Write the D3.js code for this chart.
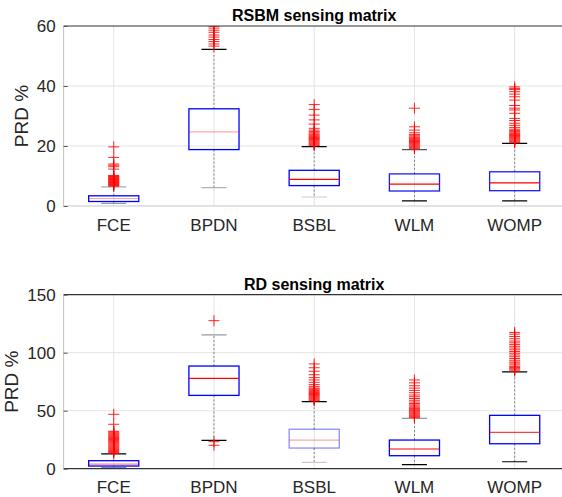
<!DOCTYPE html>
<html>
<head>
<meta charset="utf-8">
<script src="https://cdn.jsdelivr.net/npm/d3@7"></script>
<style>
  html, body { margin: 0; padding: 0; background: #fff; }
  svg { display: block; }
</style>
</head>
<body>
<svg id="chart" width="562" height="497"></svg>
<script>
// ---------------- DATA ----------------
const categories = ["FCE", "BPDN", "BSBL", "WLM", "WOMP"];

// RSBM sensing matrix: [lower whisker, Q1, median, Q3, upper whisker]
const rsbmLowerWhisker = [0.9, 6.1, 3.0, 1.7, 1.7];
const rsbmQ1           = [1.5, 18.8, 6.8, 5.0, 5.1];
const rsbmMedian       = [2.5, 24.7, 8.9, 7.3, 7.7];
const rsbmQ3           = [3.4, 32.4, 11.9, 10.7, 11.4];
const rsbmUpperWhisker = [6.4, 52.2, 19.8, 18.8, 20.9];
const rsbmOutliers = [
  [6.6,6.8,7.0,7.2,7.4,7.6,7.8,8.0,8.2,8.4,8.6,8.8,9.0,9.2,9.4,9.6,9.8,10.0,10.2,12.3,13.1,13.6,14.0,16.2,19.7],
  [53.3,54.0,54.8,55.5,56.3,57.0,57.9,58.6,59.3,59.9],
  [20.1,20.4,20.7,21.0,21.3,21.6,21.9,22.2,22.5,22.8,23.1,23.4,23.7,24.0,24.4,24.8,25.3,25.9,27.3,28.7,30.3,32.2,33.8],
  [19.1,19.4,19.7,20.0,20.3,20.6,20.9,21.2,21.5,21.8,22.1,22.4,22.7,23.0,23.4,23.8,24.4,25.3,26.4,32.6],
  [21.1,21.4,21.7,22.0,22.3,22.6,22.9,23.2,23.5,23.8,24.1,24.4,24.8,25.2,25.6,26.2,26.9,27.6,28.5,29.2,30.9,32.0,32.6,33.5,35.3,36.4,37.3,38.1,38.8,39.2,39.7]
];
const rsbmTicks = [0, 20, 40, 60];

// RD sensing matrix
const rdLowerWhisker = [1.0, 24.5, 5.5, 3.5, 6.0];
const rdQ1           = [2.3, 63.2, 17.8, 11.2, 21.5];
const rdMedian       = [4.0, 77.9, 24.7, 17.0, 31.4];
const rdQ3           = [6.9, 88.5, 34.0, 24.7, 46.0];
const rdUpperWhisker = [12.7, 115.3, 57.8, 43.4, 83.4];
const rdOutliers = [
  [13.2,14.0,14.8,15.6,16.4,17.2,18.0,18.8,19.6,20.4,21.2,22.0,22.8,23.6,24.4,25.2,26.0,26.8,27.6,28.4,29.2,30.0,30.8,31.6,32.3,38.3,46.9],
  [20.2,23.3,127.6],
  [58.5,59.2,60.0,60.8,61.6,62.4,63.2,64.0,64.8,65.6,66.4,67.2,68.0,68.8,69.6,71.0,72.5,74.5,76.5,78.5,81.0,84.0,87.0,90.3],
  [44.0,44.8,45.6,46.4,47.2,48.0,48.8,49.6,50.4,51.2,52.0,53.0,54.0,55.0,56.2,57.5,59.0,60.5,62.0,63.5,65.5,67.5,69.5,71.5,74.0,76.5],
  [84.2,85.2,86.2,87.2,88.2,89.5,91.0,92.0,93.5,95.0,96.5,98.0,99.5,101.0,102.5,104.0,105.5,107.0,108.5,110.0,112.0,114.0,116.0,117.5]
];
const rdTicks = [0, 50, 100, 150];

// ---------------- STYLE (rendering appearance per box) ----------------
const rsbmStyle = {
  medianOpacity: [0.35, 0.35, 1, 1, 1],
  boxOpacity:    [1, 1, 1, 0.9, 0.9],
  lowerCap: ["#9a9a9a", "#b0b0b0", "#cccccc", "#000", "#000"],
  upperCap: ["#aaaaaa", "#000", "#000", "#555", "#000"],
  bottomAxis: "#c8c8c8", leftAxis: "#c0c0c0"
};
const rdStyle = {
  medianOpacity: [0.5, 1, 0.35, 1, 0.75],
  boxOpacity:    [1, 1, 0.45, 1, 1],
  lowerCap: ["#8080cc", "#000", "#cccccc", "#000", "#000"],
  upperCap: ["#000", "#9a9a9a", "#000", "#9a9a9a", "#000"],
  bottomAxis: "#333", leftAxis: "#c0c0c0"
};

// ---------------- DRAW ----------------
const svg = d3.select("#chart");
const FONT = "'Liberation Sans', Arial, Helvetica, sans-serif";
const TXT = "#262626";

function panel(opt) {
  const { id, top, bottom, left, right, yMax, ticks, title, titleY, ylabelX, xLabelPad,
          lw, q1, med, q3, uw, outliers, style } = opt;

  const x = d3.scaleBand().domain(categories).range([left, right]).paddingInner(0).paddingOuter(0);
  const y = d3.scaleLinear().domain([0, yMax]).range([bottom, top]);
  const bw = x.bandwidth();
  const cx = c => x(c) + bw / 2;

  const g = svg.append("g");

  const clipId = "clip-" + id;
  svg.append("clipPath").attr("id", clipId)
    .append("rect").attr("x", left).attr("y", top).attr("width", right - left).attr("height", bottom - top);

  // grid
  g.append("g").selectAll("line.h").data(ticks.filter(t => t > 0 && t < yMax)).join("line")
    .attr("x1", left).attr("x2", right).attr("y1", d => y(d)).attr("y2", d => y(d))
    .attr("stroke", "#e3e3e3").attr("stroke-width", 1);
  g.append("g").selectAll("line.v").data(categories).join("line")
    .attr("x1", d => cx(d)).attr("x2", d => cx(d)).attr("y1", top).attr("y2", bottom)
    .attr("stroke", "#e3e3e3").attr("stroke-width", 1);

  const data = categories.map((c, i) => ({ c, i, lw: lw[i], q1: q1[i], med: med[i], q3: q3[i], uw: uw[i], out: outliers[i] }));
  const marks = g.append("g").attr("clip-path", `url(#${clipId})`);

  // whiskers (dashed)
  marks.selectAll("line.wu").data(data).join("line")
    .attr("x1", d => cx(d.c)).attr("x2", d => cx(d.c))
    .attr("y1", d => y(d.q3)).attr("y2", d => y(d.uw))
    .attr("stroke", "#000").attr("stroke-width", 0.8).attr("stroke-dasharray", "2,2").attr("opacity", 0.55);
  marks.selectAll("line.wl").data(data).join("line")
    .attr("x1", d => cx(d.c)).attr("x2", d => cx(d.c))
    .attr("y1", d => y(d.q1)).attr("y2", d => y(d.lw))
    .attr("stroke", "#000").attr("stroke-width", 0.8).attr("stroke-dasharray", "2,2").attr("opacity", 0.55);

  // caps
  marks.selectAll("line.cu").data(data).join("line")
    .attr("x1", d => cx(d.c) - bw * 0.125).attr("x2", d => cx(d.c) + bw * 0.125)
    .attr("y1", d => y(d.uw)).attr("y2", d => y(d.uw))
    .attr("stroke", d => style.upperCap[d.i]).attr("stroke-width", 1.2);
  marks.selectAll("line.cl").data(data).join("line")
    .attr("x1", d => cx(d.c) - bw * 0.125).attr("x2", d => cx(d.c) + bw * 0.125)
    .attr("y1", d => y(d.lw)).attr("y2", d => y(d.lw))
    .attr("stroke", d => style.lowerCap[d.i]).attr("stroke-width", 1.2);

  // boxes
  marks.selectAll("rect.box").data(data).join("rect")
    .attr("x", d => cx(d.c) - bw * 0.25).attr("width", bw * 0.5)
    .attr("y", d => y(d.q3)).attr("height", d => y(d.q1) - y(d.q3))
    .attr("fill", "none").attr("stroke", "#0000ff").attr("stroke-width", 1.3)
    .attr("stroke-opacity", d => style.boxOpacity[d.i]);

  // medians
  marks.selectAll("line.med").data(data).join("line")
    .attr("x1", d => cx(d.c) - bw * 0.25).attr("x2", d => cx(d.c) + bw * 0.25)
    .attr("y1", d => y(d.med)).attr("y2", d => y(d.med))
    .attr("stroke", "#ff0000").attr("stroke-width", 1.2)
    .attr("stroke-opacity", d => style.medianOpacity[d.i]);

  // outliers '+'
  const pts = data.flatMap(d => d.out.map(v => ({ c: d.c, v })));
  const s = 5.5;
  const og = marks.append("g").attr("stroke", "#ff0000").attr("stroke-width", 1);
  og.selectAll("path").data(pts).join("path")
    .attr("d", d => {
      const px = cx(d.c), py = y(d.v);
      return `M${px - s},${py}H${px + s}M${px},${py - s}V${py + s}`;
    })
    .attr("fill", "none").attr("stroke-opacity", 0.85);

  // axes frame
  g.append("line").attr("x1", left).attr("x2", right).attr("y1", top).attr("y2", top)
    .attr("stroke", "#333").attr("stroke-width", 1.2);
  g.append("line").attr("x1", left).attr("x2", right).attr("y1", bottom).attr("y2", bottom)
    .attr("stroke", style.bottomAxis).attr("stroke-width", 1.2);
  g.append("line").attr("x1", left).attr("x2", left).attr("y1", top).attr("y2", bottom)
    .attr("stroke", style.leftAxis).attr("stroke-width", 1);

  // y axis
  const ya = g.append("g").attr("transform", `translate(${left},0)`)
    .call(d3.axisLeft(y).tickValues(ticks).tickSize(-4).tickPadding(8).tickFormat(d3.format("d")));
  ya.select(".domain").remove();
  ya.selectAll(".tick line").attr("stroke", "#555");
  ya.selectAll("text").attr("font-family", FONT).attr("font-size", 17).attr("fill", TXT);

  // x axis
  const xa = g.append("g").attr("transform", `translate(0,${bottom})`)
    .call(d3.axisBottom(x).tickSize(0).tickPadding(xLabelPad));
  xa.select(".domain").remove();
  xa.selectAll("text").attr("font-family", FONT).attr("font-size", 17).attr("fill", TXT);

  // title
  g.append("text").attr("x", (left + right) / 2).attr("y", titleY)
    .attr("text-anchor", "middle").attr("font-family", FONT).attr("font-weight", "bold")
    .attr("font-size", 16).attr("fill", "#000").text(title);

  // y label
  g.append("text")
    .attr("transform", `translate(${ylabelX},${(top + bottom) / 2}) rotate(-90)`)
    .attr("text-anchor", "middle").attr("font-family", FONT).attr("font-size", 19)
    .attr("fill", TXT).text("PRD %");
}

panel({
  id: "rsbm", top: 26, bottom: 206, left: 63.6, right: 564.8, yMax: 60, ticks: rsbmTicks,
  title: "RSBM sensing matrix", titleY: 21, ylabelX: 28, xLabelPad: 13,
  lw: rsbmLowerWhisker, q1: rsbmQ1, med: rsbmMedian, q3: rsbmQ3, uw: rsbmUpperWhisker,
  outliers: rsbmOutliers, style: rsbmStyle
});

panel({
  id: "rd", top: 294.7, bottom: 468.7, left: 63.6, right: 564.8, yMax: 150, ticks: rdTicks,
  title: "RD sensing matrix", titleY: 290, ylabelX: 18, xLabelPad: 12,
  lw: rdLowerWhisker, q1: rdQ1, med: rdMedian, q3: rdQ3, uw: rdUpperWhisker,
  outliers: rdOutliers, style: rdStyle
});
</script>
</body>
</html>
